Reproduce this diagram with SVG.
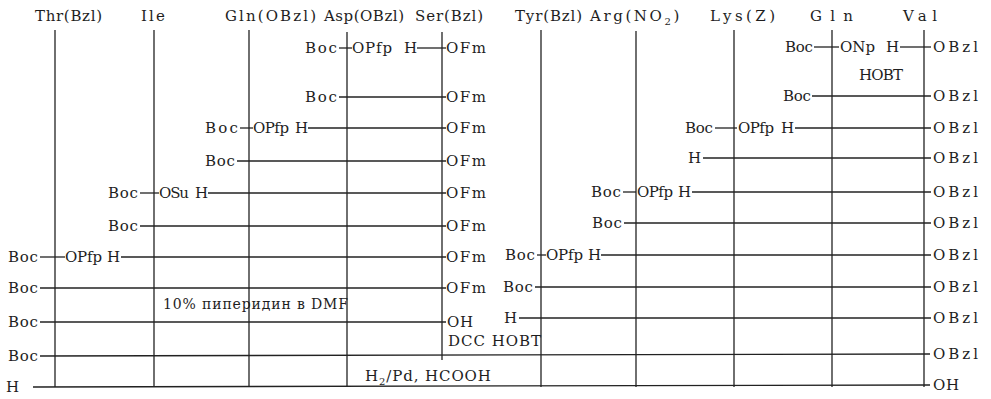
<svg xmlns="http://www.w3.org/2000/svg" width="991" height="399" viewBox="0 0 991 399">
  <style>
    .t { font-family: "DejaVu Serif", "Liberation Serif", serif; font-size: 15px; fill: #1e1e1e; }
    .note { font-size: 14px; }
    .v { stroke: #222; stroke-width: 1.3; fill: none; }
    .ln { stroke: #222; stroke-width: 1.3; fill: none; }
  </style>
  <rect width="991" height="399" fill="#ffffff"/>

  <!-- residue columns: header + vertical strand -->
  <g id="col-thr">
    <text class="t" x="35" y="21" textLength="67" lengthAdjust="spacing">Thr(Bzl)</text>
    <line class="v" x1="55" y1="30" x2="55" y2="387"/>
  </g>
  <g id="col-ile">
    <text class="t" x="141" y="21" textLength="24" lengthAdjust="spacing">Ile</text>
    <line class="v" x1="154" y1="30" x2="154" y2="387"/>
  </g>
  <g id="col-glu">
    <text class="t" x="225" y="21" textLength="91" lengthAdjust="spacing">Gln(OBzl)</text>
    <line class="v" x1="249" y1="30" x2="249" y2="387"/>
  </g>
  <g id="col-asp">
    <text class="t" x="324" y="21" textLength="80" lengthAdjust="spacing">Asp(OBzl)</text>
    <line class="v" x1="347" y1="32" x2="347" y2="387"/>
  </g>
  <g id="col-ser">
    <text class="t" x="415" y="21" textLength="68" lengthAdjust="spacing">Ser(Bzl)</text>
    <line class="v" x1="442" y1="32" x2="442" y2="360"/>
  </g>
  <g id="col-tyr">
    <text class="t" x="515" y="21" textLength="67" lengthAdjust="spacing">Tyr(Bzl)</text>
    <line class="v" x1="541" y1="30" x2="541" y2="387"/>
  </g>
  <g id="col-arg">
    <text class="t" x="590" y="21" letter-spacing="2.6">Arg(NO<tspan font-size="10" dy="4">2</tspan><tspan dy="-4">)</tspan></text>
    <line class="v" x1="636" y1="31" x2="636" y2="387"/>
  </g>
  <g id="col-lys">
    <text class="t" x="710" y="21" textLength="65" lengthAdjust="spacing">Lys(Z)</text>
    <line class="v" x1="734" y1="30" x2="734" y2="387"/>
  </g>
  <g id="col-gln">
    <text class="t" x="810" y="21" textLength="43" lengthAdjust="spacing">Gln</text>
    <line class="v" x1="832" y1="30" x2="832" y2="387"/>
  </g>
  <g id="col-val">
    <text class="t" x="903" y="21" textLength="34" lengthAdjust="spacing">Val</text>
    <line class="v" x1="924" y1="30" x2="924" y2="387"/>
  </g>

  <!-- bonds formed at each coupling step -->
  <g id="connectors">
    <!-- left block -->
    <line class="ln" x1="339" y1="48" x2="352" y2="48"/>
    <line class="ln" x1="417" y1="48" x2="446" y2="48"/>
    <line class="ln" x1="339" y1="97" x2="446" y2="97"/>
    <line class="ln" x1="240" y1="128" x2="253" y2="128"/>
    <line class="ln" x1="308" y1="128" x2="446" y2="128"/>
    <line class="ln" x1="237" y1="161" x2="446" y2="161"/>
    <line class="ln" x1="140" y1="193" x2="159" y2="193"/>
    <line class="ln" x1="208" y1="193" x2="446" y2="193"/>
    <line class="ln" x1="140" y1="226" x2="446" y2="226"/>
    <line class="ln" x1="40" y1="257" x2="65" y2="257"/>
    <line class="ln" x1="121" y1="257" x2="446" y2="257"/>
    <line class="ln" x1="40" y1="288" x2="446" y2="288"/>
    <line class="ln" x1="40" y1="322" x2="446" y2="322"/>
    <!-- full-length rows -->
    <line class="ln" x1="40" y1="356" x2="930" y2="354"/>
    <line class="ln" x1="33" y1="387" x2="930" y2="385"/>
    <!-- right block -->
    <line class="ln" x1="814" y1="47" x2="839" y2="47"/>
    <line class="ln" x1="900" y1="47" x2="931" y2="47"/>
    <line class="ln" x1="812" y1="96" x2="931" y2="96"/>
    <line class="ln" x1="715" y1="128" x2="737" y2="128"/>
    <line class="ln" x1="795" y1="128" x2="931" y2="128"/>
    <line class="ln" x1="703" y1="158" x2="931" y2="158"/>
    <line class="ln" x1="623" y1="192" x2="636" y2="192"/>
    <line class="ln" x1="692" y1="192" x2="931" y2="192"/>
    <line class="ln" x1="624" y1="223" x2="931" y2="223"/>
    <line class="ln" x1="537" y1="255" x2="546" y2="255"/>
    <line class="ln" x1="601" y1="255" x2="931" y2="255"/>
    <line class="ln" x1="535" y1="287" x2="931" y2="287"/>
    <line class="ln" x1="519" y1="318" x2="931" y2="318"/>
  </g>

  <!-- left segment: Thr...Ser fragment -->
  <g id="left-rows">
    <text class="t" x="305" y="53" textLength="32" lengthAdjust="spacing">Boc</text>
    <text class="t" x="352" y="53" textLength="40" lengthAdjust="spacing">OPfp</text>
    <text class="t" x="404" y="53" textLength="12" lengthAdjust="spacing">H</text>
    <text class="t" x="446" y="53" textLength="40" lengthAdjust="spacing">OFm</text>

    <text class="t" x="305" y="102" textLength="32" lengthAdjust="spacing">Boc</text>
    <text class="t" x="446" y="102" textLength="40" lengthAdjust="spacing">OFm</text>

    <text class="t" x="205" y="133" textLength="33" lengthAdjust="spacing">Boc</text>
    <text class="t" x="253" y="133" textLength="36" lengthAdjust="spacing">OPfp</text>
    <text class="t" x="295" y="133" textLength="12" lengthAdjust="spacing">H</text>
    <text class="t" x="446" y="133" textLength="40" lengthAdjust="spacing">OFm</text>

    <text class="t" x="205" y="166" textLength="30" lengthAdjust="spacing">Boc</text>
    <text class="t" x="446" y="166" textLength="40" lengthAdjust="spacing">OFm</text>

    <text class="t" x="108" y="198" textLength="30" lengthAdjust="spacing">Boc</text>
    <text class="t" x="159" y="198" textLength="30" lengthAdjust="spacing">OSu</text>
    <text class="t" x="195" y="198" textLength="12" lengthAdjust="spacing">H</text>
    <text class="t" x="446" y="198" textLength="40" lengthAdjust="spacing">OFm</text>

    <text class="t" x="108" y="231" textLength="30" lengthAdjust="spacing">Boc</text>
    <text class="t" x="446" y="231" textLength="40" lengthAdjust="spacing">OFm</text>

    <text class="t" x="8" y="262" textLength="30" lengthAdjust="spacing">Boc</text>
    <text class="t" x="65" y="262" textLength="37" lengthAdjust="spacing">OPfp</text>
    <text class="t" x="107" y="262" textLength="12" lengthAdjust="spacing">H</text>
    <text class="t" x="446" y="262" textLength="40" lengthAdjust="spacing">OFm</text>

    <text class="t" x="8" y="293" textLength="30" lengthAdjust="spacing">Boc</text>
    <text class="t" x="446" y="293" textLength="40" lengthAdjust="spacing">OFm</text>

    <text class="t note" x="163" y="309" textLength="185" lengthAdjust="spacing">10% пиперидин в DMF</text>

    <text class="t" x="8" y="327" textLength="30" lengthAdjust="spacing">Boc</text>
    <text class="t" x="447" y="327" textLength="26" lengthAdjust="spacing">OH</text>

    <text class="t" x="8" y="361" textLength="30" lengthAdjust="spacing">Boc</text>
    <text class="t" x="6" y="392" textLength="14" lengthAdjust="spacing">H</text>
  </g>

  <!-- reagents for fragment condensation and final deprotection -->
  <g id="reagents">
    <text class="t" x="448" y="346" textLength="93" lengthAdjust="spacing">DCC HOBT</text>
    <text class="t" x="365" y="381" letter-spacing="0.9">H<tspan font-size="10" dy="4">2</tspan><tspan dy="-4">/Pd, HCOOH</tspan></text>
  </g>

  <!-- right segment: Tyr...Val fragment -->
  <g id="right-rows">
    <text class="t" x="785" y="52" textLength="28" lengthAdjust="spacing">Boc</text>
    <text class="t" x="840" y="52" textLength="35" lengthAdjust="spacing">ONp</text>
    <text class="t" x="886" y="52" textLength="12" lengthAdjust="spacing">H</text>
    <text class="t" x="933" y="52" textLength="45" lengthAdjust="spacing">OBzl</text>
    <text class="t" x="859" y="80" textLength="44" lengthAdjust="spacing">HOBT</text>

    <text class="t" x="783" y="101" textLength="28" lengthAdjust="spacing">Boc</text>
    <text class="t" x="933" y="101" textLength="45" lengthAdjust="spacing">OBzl</text>

    <text class="t" x="685" y="133" textLength="28" lengthAdjust="spacing">Boc</text>
    <text class="t" x="738" y="133" textLength="36" lengthAdjust="spacing">OPfp</text>
    <text class="t" x="781" y="133" textLength="12" lengthAdjust="spacing">H</text>
    <text class="t" x="933" y="133" textLength="45" lengthAdjust="spacing">OBzl</text>

    <text class="t" x="688" y="163" textLength="12" lengthAdjust="spacing">H</text>
    <text class="t" x="933" y="163" textLength="45" lengthAdjust="spacing">OBzl</text>

    <text class="t" x="591" y="197" textLength="30" lengthAdjust="spacing">Boc</text>
    <text class="t" x="637" y="197" textLength="36" lengthAdjust="spacing">OPfp</text>
    <text class="t" x="678" y="197" textLength="12" lengthAdjust="spacing">H</text>
    <text class="t" x="933" y="197" textLength="45" lengthAdjust="spacing">OBzl</text>

    <text class="t" x="592" y="228" textLength="30" lengthAdjust="spacing">Boc</text>
    <text class="t" x="933" y="228" textLength="45" lengthAdjust="spacing">OBzl</text>

    <text class="t" x="505" y="260" textLength="30" lengthAdjust="spacing">Boc</text>
    <text class="t" x="546" y="260" textLength="37" lengthAdjust="spacing">OPfp</text>
    <text class="t" x="588" y="260" textLength="12" lengthAdjust="spacing">H</text>
    <text class="t" x="933" y="260" textLength="45" lengthAdjust="spacing">OBzl</text>

    <text class="t" x="503" y="292" textLength="30" lengthAdjust="spacing">Boc</text>
    <text class="t" x="933" y="292" textLength="45" lengthAdjust="spacing">OBzl</text>

    <text class="t" x="504" y="323" textLength="12" lengthAdjust="spacing">H</text>
    <text class="t" x="933" y="323" textLength="45" lengthAdjust="spacing">OBzl</text>

    <text class="t" x="933" y="359" textLength="45" lengthAdjust="spacing">OBzl</text>
    <text class="t" x="933" y="390" textLength="26" lengthAdjust="spacing">OH</text>
  </g>
</svg>
